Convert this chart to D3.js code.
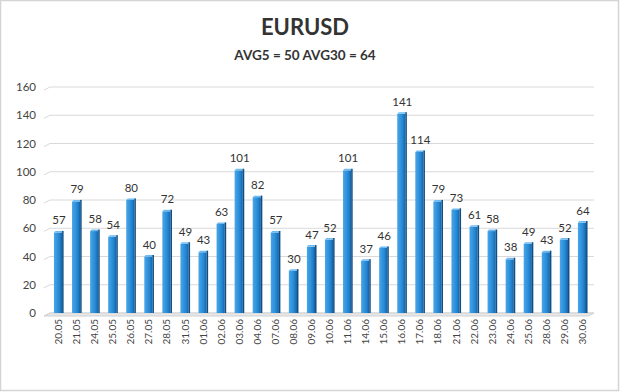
<!DOCTYPE html>
<html><head><meta charset="utf-8">
<script src="https://cdn.jsdelivr.net/npm/d3@7"></script>
<style>body{margin:0;background:#fff}svg{display:block}</style>
</head><body>
<script>
const dates = ["20.05","21.05","24.05","25.05","26.05","27.05","28.05","31.05","01.06","02.06","03.06","04.06","07.06","08.06","09.06","10.06","11.06","14.06","15.06","16.06","17.06","18.06","21.06","22.06","23.06","24.06","25.06","28.06","29.06","30.06"];
const values = [57,79,58,54,80,40,72,49,43,63,101,82,57,30,47,52,101,37,46,141,114,79,73,61,58,38,49,43,52,64];
const yTicks = [0,20,40,60,80,100,120,140,160];
const title = "EURUSD";
const subtitle = "AVG5 = 50 AVG30 = 64";

const W = 620, H = 392;
const svg = d3.select("body").append("svg").attr("width", W).attr("height", H);
svg.append("rect").attr("x",0.5).attr("y",0.5).attr("width",W-2).attr("height",H-2)
  .attr("fill","#fff").attr("stroke","#d4d4d4").attr("stroke-width",1.5);

const defs = svg.append("defs");
const g1 = defs.append("linearGradient").attr("id","bar").attr("x1","0").attr("x2","1").attr("y1","0").attr("y2","0");
g1.append("stop").attr("offset","0").attr("stop-color","#4aa5e6");
g1.append("stop").attr("offset","0.45").attr("stop-color","#2f92dc");
g1.append("stop").attr("offset","0.75").attr("stop-color","#1f7fcb");
g1.append("stop").attr("offset","1").attr("stop-color","#155f9e");

const font = "Lato, 'Open Sans', sans-serif";
svg.append("text").attr("x",305).attr("y",35).attr("text-anchor","middle")
  .attr("font-family",font).attr("font-weight","bold").attr("font-size",22).attr("fill","#333").text(title);
svg.append("text").attr("x",305).attr("y",60).attr("text-anchor","middle")
  .attr("font-family",font).attr("font-weight","bold").attr("font-size",13.5).attr("fill","#333").text(subtitle);

const x = d3.scaleBand().domain(dates).range([49,591]).paddingInner(0.55).paddingOuter(0.275);
const y = d3.scaleLinear().domain([0,160]).range([313,87]);

// gridlines with slight 3D slant
const grid = svg.append("g");
yTicks.forEach(t => {
  const yy = y(t);
  grid.append("path").attr("d",`M44,${yy+3} L50,${yy} L594,${yy}`)
    .attr("fill","none").attr("stroke", "#d9d9d9").attr("stroke-width",1);
});
svg.append("path").attr("d",`M44,${y(0)+3} L50,${y(0)} L594,${y(0)} L588,${y(0)+3} Z`).attr("fill","#e8e8e8").attr("stroke","#d0d0d0");

const yAxis = d3.axisLeft(y).tickValues(yTicks).tickSize(0).tickPadding(0);
const ya = svg.append("g").attr("transform","translate(36,0)").call(yAxis);
ya.select(".domain").remove();
ya.selectAll("text").attr("font-family",font).attr("font-size",11.5).attr("fill","#444");

// bars
const bars = svg.append("g");
dates.forEach((d,i) => {
  const bx = x(d), bw = x.bandwidth(), by = y(values[i]), bh = y(0)-by;
  bars.append("rect").attr("x",bx).attr("y",by).attr("width",bw).attr("height",bh).attr("fill","url(#bar)");
  bars.append("path").attr("d",`M${bx},${by} L${bx+bw},${by} L${bx+bw+1.5},${by-1.5} L${bx+1.5},${by-1.5} Z`).attr("fill","#6fbaf0");
  bars.append("rect").attr("x",bx+bw).attr("y",by-1.5).attr("width",1.5).attr("height",bh+1.5).attr("fill","#0f4f86");
});

// value labels
svg.append("g").selectAll("text").data(values).join("text")
  .attr("x",(v,i)=>x(dates[i])+x.bandwidth()/2+1).attr("y",v=>y(v)-8)
  .attr("text-anchor","middle").attr("font-family",font).attr("font-size",11.5).attr("fill","#333")
  .text(v=>v);

// x axis labels
const xAxis = d3.axisBottom(x).tickSize(0).tickPadding(0);
const xa = svg.append("g").attr("transform",`translate(0,${y(0)})`).call(xAxis);
xa.select(".domain").remove();
xa.selectAll("text").attr("font-family",font).attr("font-size",10).attr("fill","#444")
  .attr("text-anchor","end").attr("dy",null).attr("y",0)
  .attr("transform","translate(4,6) rotate(-90)");
</script>
</body></html>
